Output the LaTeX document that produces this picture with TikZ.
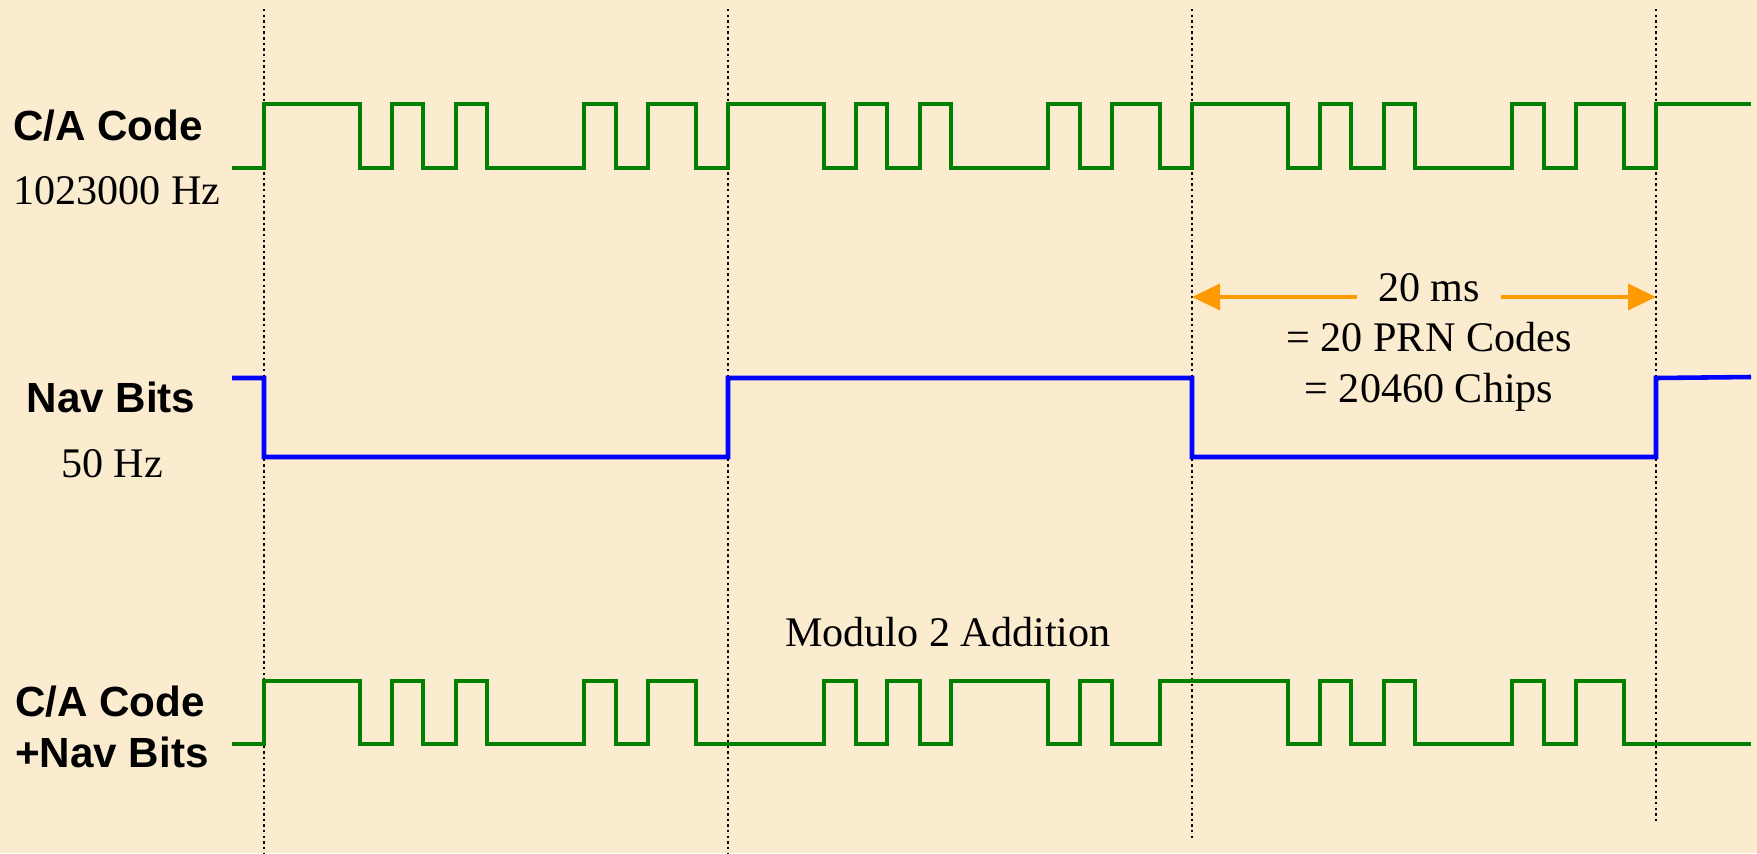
\documentclass[tikz,border=0pt]{standalone}
\usepackage{fontspec}
\setmainfont{Liberation Serif}
\setsansfont{Liberation Sans}
\usetikzlibrary{arrows.meta}
\definecolor{paper}{RGB}{251,236,208}
\definecolor{cagreen}{RGB}{0,128,0}
\definecolor{navblue}{RGB}{0,0,255}
\definecolor{spanorange}{RGB}{255,155,0}

\begin{document}
\begin{tikzpicture}[>=Stealth,
  font=\fontsize{12}{14.4}\selectfont,
  sig/.style={line width=1.3pt},
  period/.style={line width=0.8pt, dash pattern=on 0.7pt off 0.9pt},
  signame/.style={font=\fontsize{12}{14.4}\selectfont\sffamily\bfseries},
  spanarrow/.style={->, spanorange, line width=1.1pt, >={Triangle[length=2.8mm,width=2.6mm]}}]
  \fill[paper] (0,0) rectangle (17.57,8.53);
  \useasboundingbox (0,0) rectangle (17.57,8.53);

  \def\cahi{7.49} \def\calo{6.85}
  \def\mxhi{1.72} \def\mxlo{1.09}

  \coordinate (t1) at (2.64,8.44);  \coordinate (b1) at (2.64,0);
  \coordinate (t2) at (7.28,8.44);  \coordinate (b2) at (7.28,0);
  \coordinate (t3) at (11.92,8.44); \coordinate (b3) at (11.92,0.15);
  \coordinate (t4) at (16.56,8.44); \coordinate (b4) at (16.56,0.31);
  \foreach \i in {1,...,4} \draw[period] (t\i) -- (b\i);

  % one PRN period from its rising edge, \a = level at start, \b = the other one
  \draw[sig, cagreen] (2.32,\calo)
    \foreach \o/\a/\b in {2.64/\cahi/\calo, 7.28/\cahi/\calo, 11.92/\cahi/\calo} {
      \foreach \d/\l in {0/\a,0.96/\b,1.28/\a,1.59/\b,1.92/\a,2.23/\b,3.20/\a,3.52/\b,3.84/\a,4.32/\b} {
        -| (\o+\d,\l) } }
    -| (16.56,\cahi) -- (17.51,\cahi);

  \draw[sig, navblue] (2.32,4.75) -| (2.64,3.96) -| (7.28,4.75)
    -| (11.92,3.96) -| (16.56,4.75) -- (17.51,4.76);

  \draw[sig, cagreen] (2.32,\mxlo)
    \foreach \o/\a/\b in {2.64/\mxhi/\mxlo, 7.28/\mxlo/\mxhi, 11.92/\mxhi/\mxlo} {
      \foreach \d/\l in {0/\a,0.96/\b,1.28/\a,1.59/\b,1.92/\a,2.23/\b,3.20/\a,3.52/\b,3.84/\a,4.32/\b} {
        -| (\o+\d,\l) } }
    -- (17.51,\mxlo);

  \node[signame, anchor=base] (ca) at (1.08,7.13) {C/A Code};
  \node[anchor=base] (caf) at (1.17,6.49) {1023000 Hz};
  \node[signame, anchor=base] (nav) at (1.11,4.41) {Nav Bits};
  \node[anchor=base] (navf) at (1.12,3.76) {50 Hz};
  \node[signame, anchor=base west, align=left, inner sep=0pt] (mix) at (0.145,0.86) {C/A Code\\+Nav Bits};
  \node[anchor=base] (mod) at (9.48,2.07) {Modulo 2 Addition};

  \node[anchor=base, inner xsep=2mm] (ms) at (14.29,5.52) {20 ms};
  \node[anchor=base, align=center] (prn) at (14.29,4.51) {= 20 PRN Codes\\= 20460 Chips};
  \coordinate (msL) at ([yshift=0.4mm]ms.base west);
  \coordinate (msR) at ([yshift=0.4mm]ms.base east);
  \draw[spanarrow] (msL) -- (msL -| t3);
  \draw[spanarrow] (msR) -- (msR -| t4);
\end{tikzpicture}
\end{document}
